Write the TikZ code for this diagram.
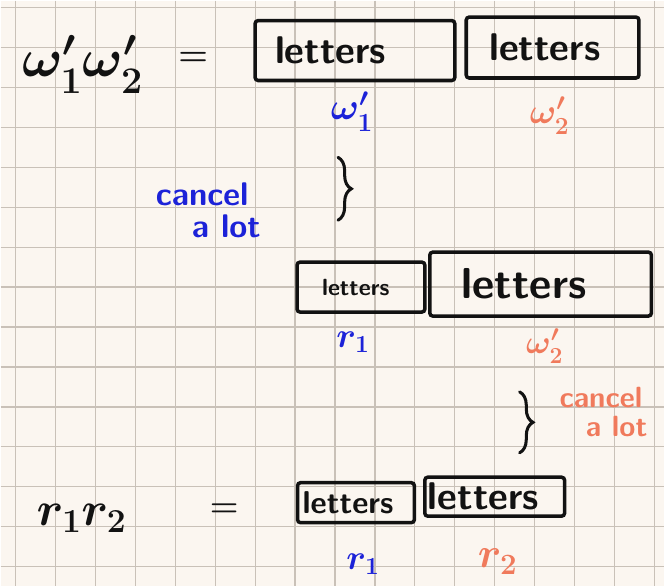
\documentclass[tikz,border=0pt]{standalone}
\usepackage{fix-cm}
\usepackage{amsmath}
\usepackage{tikz}
\usetikzlibrary{positioning,decorations.pathreplacing}
\definecolor{paper}{HTML}{FBF6F0}
\definecolor{gridgray}{HTML}{C9C1B8}
\definecolor{penblack}{HTML}{121212}
\definecolor{penblue}{HTML}{1C22D8}
\definecolor{penorange}{HTML}{F07A5C}
\tikzset{
  gridline/.style={draw=gridgray,line width=1.1pt},
  handsize/.style={font=\sffamily\bfseries\fontsize{#1}{#1}\selectfont},
  mathsize/.style={font=\boldmath\fontsize{#1}{#1}\selectfont},
  wordbox/.style={
    draw=penblack, text=penblack, line width=3pt, rounded corners=2.5pt,
    align=left, inner ysep=0pt
  },
  blackpen/.style={text=penblack,inner sep=0pt},
  bluepen/.style={text=penblue,inner sep=0pt},
  orangepen/.style={text=penorange,inner sep=0pt},
  notepen/.style={align=left,inner sep=0pt},
  cbrace/.style={draw=penblack,line width=2.6pt,line cap=round,
    decorate,decoration={brace,amplitude=0.4cm}}
}

\begin{document}
\begin{tikzpicture}[x=0.03cm,y=-0.03cm]
  \fill[paper] (0,0) rectangle (665,586);
  \foreach \gx in {15,55,...,655} \draw[gridline] (\gx,0) -- (\gx,586);
  \foreach \gy in {7,47,...,567} \draw[gridline] (0,\gy) -- (665,\gy);
  \useasboundingbox (0,0) rectangle (665,586);

  \node[blackpen,mathsize=46] (wlhs) at (82,64) {$\omega_1'\omega_2'$};
  \node[blackpen,mathsize=29] (eqtop) at (193,58) {$=$};
  \node[wordbox,handsize=33,minimum width=6cm,text width=4.8cm,inner xsep=0.6cm,minimum height=1.8cm] (wbox1) at (355,50) {letters};
  \node[wordbox,handsize=33,minimum width=5.19cm,text width=3.81cm,inner xsep=0.69cm,minimum height=1.83cm] (wbox2) at (553,47) {letters};
  \node[bluepen,mathsize=32] (wtag1) at (352,111) {$\omega_1'$};
  \node[orangepen,mathsize=30] (wtag2) at (550,115) {$\omega_2'$};

  \coordinate (braceAtop) at (338,157);
  \coordinate (braceAbot) at (338,220);
  \draw[cbrace] (braceAtop) -- (braceAbot);
  \node[bluepen,notepen,handsize=28] (cancelA) at (208,210) {cancel\\\hspace*{1.1em}a lot};

  \node[wordbox,handsize=20,minimum width=3.84cm,text width=2.34cm,inner xsep=0.75cm,minimum height=1.5cm] (rbox1) at (361,287) {letters};
  \node[wordbox,handsize=37,minimum width=6.66cm,text width=4.74cm,inner xsep=0.96cm,minimum height=1.92cm] (wbox3) at (541,284) {letters};
  \node[bluepen,mathsize=30] (rtag1) at (353,342) {$r_1$};
  \node[orangepen,mathsize=28] (wtag3) at (545,346) {$\omega_2'$};

  \coordinate (braceBtop) at (520,392);
  \coordinate (braceBbot) at (520,453);
  \draw[cbrace] (braceBtop) -- (braceBbot);
  \node[orangepen,notepen,handsize=25] (cancelB) at (604,412) {cancel\\\hspace*{0.9em}a lot};

  \node[blackpen,mathsize=41] (rlhs) at (81,519) {$r_1r_2$};
  \node[blackpen,mathsize=28] (eqbot) at (224,511) {$=$};
  \node[wordbox,handsize=27,minimum width=3.51cm,text width=3.21cm,inner xsep=0.15cm,minimum height=1.2cm] (rbox2) at (356,503) {letters};
  \node[wordbox,handsize=33,minimum width=4.2cm,text width=4.02cm,inner xsep=0.09cm,minimum height=1.17cm] (rbox3) at (495,497) {letters};
  \node[bluepen,mathsize=30] (rtag2) at (363,565) {$r_1$};
  \node[orangepen,mathsize=36] (rtag3) at (498,562) {$r_2$};
\end{tikzpicture}
\end{document}
